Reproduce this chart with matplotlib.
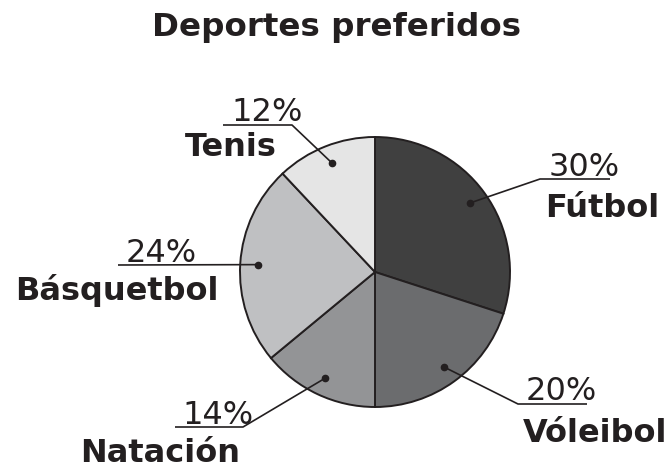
import numpy as np
import matplotlib
matplotlib.use("Agg")
import matplotlib.pyplot as plt

# datos del grafico
deportes = ["Fútbol", "Vóleibol", "Natación", "Básquetbol", "Tenis"]
porcentajes = [30, 20, 14, 24, 12]
colores = ["#404040", "#6b6c6e", "#939496", "#bfc0c2", "#e5e5e5"]

TXT = "#231f20"
FS = 23

# posiciones de las etiquetas en pixeles (x, y desde arriba)
# codo de la linea, fin del subrayado, texto %, texto nombre
codos = [(540, 179), (518, 404), (243, 427), (118, 265), (292, 125)]
subrayado = [(610, 179), (587, 404), (175, 427), (118, 265), (223, 125)]
pos_pct = [(584, 176), (561, 400), (218, 424), (161, 262), (267, 121)]
pos_nombre = [(602, 217), (595, 442), (160, 462), (117, 300), (231, 156)]

CX, CY, R = 375, 272, 135
W, H = 670, 470


def px(x, y):
    # pixeles -> coordenadas de datos (radio del pastel = 1)
    return (x - CX) / R, (CY - y) / R


fig = plt.figure(figsize=(6.7, 4.7), dpi=100)
ax = fig.add_axes([0, 0, 1, 1])

wedges, _ = ax.pie(porcentajes, colors=colores, startangle=90, counterclock=False,
                   radius=1, wedgeprops=dict(edgecolor=TXT, linewidth=1.4))
ax.set_xlim(-CX / R, (W - CX) / R)
ax.set_ylim(-(H - CY) / R, CY / R)
ax.set_aspect("auto")
ax.axis("off")

for i, w in enumerate(wedges):
    ang = np.deg2rad((w.theta1 + w.theta2) / 2)
    dx, dy = 0.87 * np.cos(ang), 0.87 * np.sin(ang)
    ex, ey = px(*codos[i])
    ux, uy = px(*subrayado[i])
    ax.plot([dx, ex, ux], [dy, ey, uy], color=TXT, lw=1.2, solid_capstyle="butt")
    ax.plot(dx, dy, "o", color=TXT, markersize=4.5)
    tx, ty = px(*pos_pct[i])
    ax.text(tx, ty, f"{porcentajes[i]}%", fontsize=FS, color=TXT, ha="center", va="baseline")
    nx, ny = px(*pos_nombre[i])
    ax.text(nx, ny, deportes[i], fontsize=FS, fontweight="bold", color=TXT,
            ha="center", va="baseline")

tx, ty = px(337, 36)
ax.text(tx, ty, "Deportes preferidos", fontsize=23.4, fontweight="bold", color=TXT,
        ha="center", va="baseline")

fig.savefig("out.png", dpi=100, facecolor="white")
